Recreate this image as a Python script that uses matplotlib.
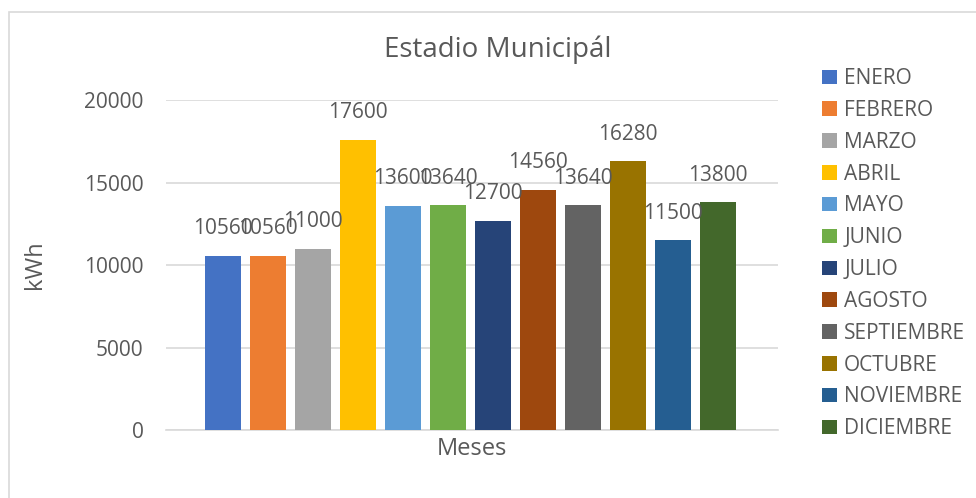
import matplotlib.pyplot as plt
from matplotlib.patches import Rectangle

plt.rcParams['font.family'] = ['Open Sans', 'DejaVu Sans']

# datos
meses = ['ENERO', 'FEBRERO', 'MARZO', 'ABRIL', 'MAYO', 'JUNIO', 'JULIO',
         'AGOSTO', 'SEPTIEMBRE', 'OCTUBRE', 'NOVIEMBRE', 'DICIEMBRE']
kwh = [10560, 10560, 11000, 17600, 13600, 13640, 12700,
       14560, 13640, 16280, 11500, 13800]
colores = ['#4472C4', '#ED7D31', '#A5A5A5', '#FFC000', '#5B9BD5', '#70AD47',
           '#264478', '#9E480E', '#636363', '#997300', '#255E91', '#43682B']

gris = '#595959'

fig = plt.figure(figsize=(9.76, 4.98), dpi=100)
ax = fig.add_axes([0.170, 0.1365, 0.627, 0.6625])

for i, (m, v, c) in enumerate(zip(meses, kwh, colores)):
    ax.bar(i, v, width=0.8, color=c, label=m, zorder=3)
    ax.annotate(str(v), (i, v), xytext=(0, 27), textcoords='offset pixels',
                ha='center', va='center', fontsize=15, color=gris, zorder=4)

ax.set_ylim(0, 20000)
ax.set_xlim(-1.27, 12.33)
ax.set_yticks([0, 5000, 10000, 15000, 20000])
ax.set_xticks([])
ax.grid(axis='y', color='#D9D9D9', linewidth=1.2, zorder=0)
for s in ['top', 'right', 'left']:
    ax.spines[s].set_visible(False)
ax.spines['bottom'].set_color('#D9D9D9')
ax.spines['bottom'].set_linewidth(1.2)
ax.tick_params(axis='y', length=0, labelsize=15, labelcolor=gris, pad=16)

ax.set_xlabel('Meses', fontsize=17, color=gris, labelpad=5)
ax.set_ylabel('kWh', fontsize=17, color=gris)
ax.yaxis.set_label_coords(-0.195, 0.5)
fig.text(0.51, 0.9, 'Estadio Municipál', fontsize=20, color=gris,
         ha='center', va='center')

leg = fig.legend(loc='upper left', bbox_to_anchor=(0.834, 0.88),
                 frameon=False, fontsize=15, labelcolor=gris,
                 handlelength=0.7, handleheight=0.7, handletextpad=0.35,
                 labelspacing=0.52, borderaxespad=0)

fig.patches.append(Rectangle((0.009, -0.01), 1.0, 0.985, transform=fig.transFigure,
                             fill=False, edgecolor='#D9D9D9', linewidth=1.2))

fig.savefig('out.png', dpi=100)
